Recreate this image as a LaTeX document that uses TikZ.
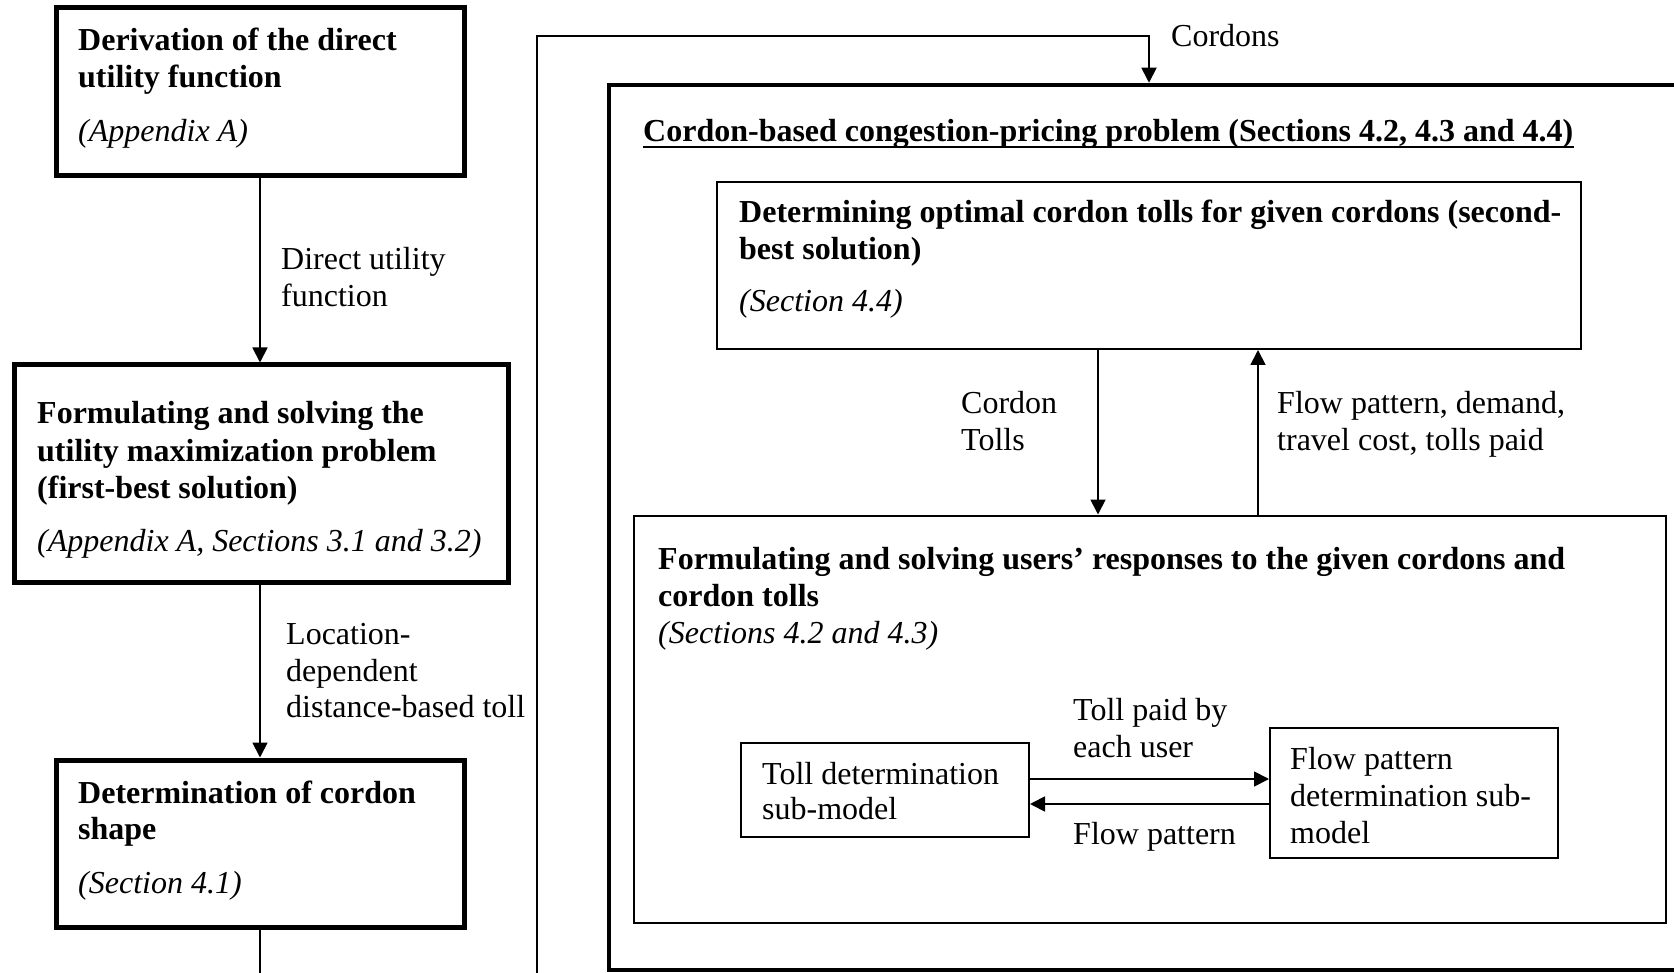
\documentclass[tikz,border=0pt]{standalone}
\usepackage{fontspec}
\setmainfont{Liberation Serif}
\usetikzlibrary{arrows.meta}
\tikzset{
  thickbox/.style={draw, line width=5pt, rectangle, inner sep=0pt},
  bigbox/.style={draw, line width=4.5pt, rectangle, inner sep=0pt},
  thinbox/.style={draw, line width=2pt, rectangle, inner sep=0pt},
  txt/.style={anchor=base west, inner sep=0pt, font=\fontsize{32}{36.5}\selectfont},
  btxt/.style={txt, font=\fontsize{32}{36.5}\selectfont\bfseries},
  itxt/.style={txt, font=\fontsize{32}{36.5}\selectfont\itshape},
  arr/.style={line width=1.8pt, -{Triangle[length=15pt,width=15pt]}},
  plain/.style={line width=1.8pt}
}
\begin{document}
\begin{tikzpicture}[x=1pt,y=-1pt]
\useasboundingbox (0,0) rectangle (1674,973);
\clip (0,0) rectangle (1674,973);
\fill[white] (0,0) rectangle (1674,973);

% left column boxes
\node[thickbox, minimum width=408pt, minimum height=168pt] (b1) at (260,92) {};
\node[thickbox, minimum width=494pt, minimum height=217pt] (b2) at (261,473.5) {};
\node[thickbox, minimum width=408pt, minimum height=167pt] (b3) at (260,843.5) {};

\node[btxt] (t1a) at (78,51) {Derivation of the direct};
\node[btxt] (t1b) at (78,88) {utility function};
\node[itxt] (t1c) at (78,142) {(Appendix A)};

\node[btxt] (t2a) at (37,424) {Formulating and solving the};
\node[btxt] (t2b) at (37,461) {utility maximization problem};
\node[btxt] (t2c) at (37,498) {(first-best solution)};
\node[itxt] (t2d) at (37,551) {(Appendix A, Sections 3.1 and 3.2)};

\node[btxt] (t3a) at (78,803) {Determination of cordon};
\node[btxt] (t3b) at (78,839) {shape};
\node[itxt] (t3c) at (78,893) {(Section 4.1)};

\node[txt] (l1a) at (281,270) {Direct utility};
\node[txt] (l1b) at (281,307) {function};
\node[txt] (l2a) at (286,644) {Location-};
\node[txt] (l2b) at (286,681) {dependent};
\node[txt] (l2c) at (286,717) {distance-based toll};

\draw[arr] (b1.south) -- (b1.south |- b2.north);
\draw[arr] (b3.north |- b2.south) -- (b3.north);
\coordinate (bot1) at (260,990);
\draw[plain] (b3.south) -- (bot1);

% big box
\node[bigbox, minimum width=1091pt, minimum height=885pt] (big) at (1154.5,527.5) {};
\coordinate (loopstart) at (537,990);
\coordinate (cordcorner) at (1149,36);
\draw[arr] (loopstart) |- (cordcorner) -- (cordcorner |- big.north);
\node[txt] (lcord) at (1171,47) {Cordons};

\node[btxt] (title) at (643,142) {Cordon-based congestion-pricing problem (Sections 4.2, 4.3 and 4.4)};
\draw[line width=2.2pt] ([yshift=-5pt]title.base west) -- ([yshift=-5pt]title.base east);

% box 4
\node[thinbox, minimum width=864pt, minimum height=167pt] (b4) at (1149,265.5) {};
\node[btxt] (t4a) at (739,223) {Determining optimal cordon tolls for given cordons (second-};
\node[btxt] (t4b) at (739,260) {best solution)};
\node[itxt] (t4c) at (739,312) {(Section 4.4)};

% box 5
\node[thinbox, minimum width=1032pt, minimum height=407pt] (b5) at (1150,719) {};
\node[btxt] (t5a) at (658,569) {Formulating and solving users’ responses to the given cordons and};
\node[btxt] (t5b) at (658,606) {cordon tolls};
\node[itxt] (t5c) at (658,643) {(Sections 4.2 and 4.3)};

\draw[arr] ([xshift=-51pt]b4.south) -- ([xshift=-51pt]b4.south |- b5.north);
\draw[arr] ([xshift=109pt]b4.south |- b5.north) -- ([xshift=109pt]b4.south);
\node[txt] (l3a) at (961,414) {Cordon};
\node[txt] (l3b) at (961,450) {Tolls};
\node[txt] (l4a) at (1277,414) {Flow pattern, demand,};
\node[txt] (l4b) at (1277,450) {travel cost, tolls paid};

% sub-models
\node[thinbox, minimum width=288pt, minimum height=94pt] (tb) at (885,790) {};
\node[thinbox, minimum width=288pt, minimum height=130pt] (fb) at (1414,793) {};
\node[txt] (t6a) at (762,784) {Toll determination};
\node[txt] (t6b) at (762,819) {sub-model};
\node[txt] (t7a) at (1290,769) {Flow pattern};
\node[txt] (t7b) at (1290,806) {determination sub-};
\node[txt] (t7c) at (1290,843) {model};

\draw[arr] ([yshift=11pt]tb.east) -- ([yshift=11pt]tb.east -| fb.west);
\draw[arr] ([yshift=-14pt]tb.east -| fb.west) -- ([yshift=-14pt]tb.east);
\node[txt] (l5a) at (1073,720) {Toll paid by};
\node[txt] (l5b) at (1073,757) {each user};
\node[txt] (l6) at (1073,844) {Flow pattern};
\end{tikzpicture}
\end{document}
